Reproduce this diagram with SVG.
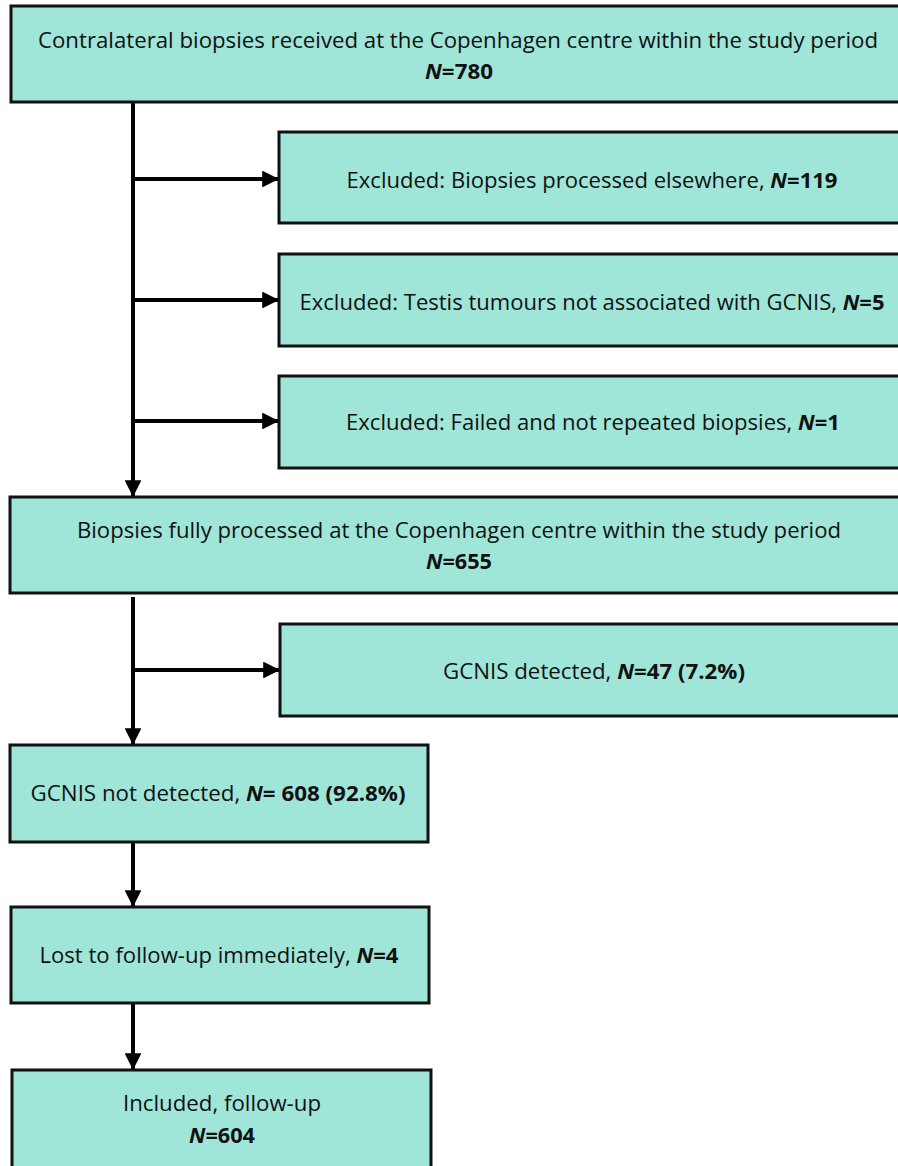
<svg xmlns="http://www.w3.org/2000/svg" width="898" height="1166" viewBox="0 0 898 1166">
<style>
.box{fill:#9fe6d8;stroke:#111;stroke-width:3}
.t{font-family:"Open Sans","Liberation Sans",Arial,sans-serif;font-size:22px;fill:#111;text-anchor:middle}
.b{font-weight:bold}
.bi{font-weight:bold;font-style:italic}
.ln{stroke:#000;stroke-width:4;fill:none}
</style>
<defs>
<marker id="ah" viewBox="0 0 10 10" refX="10" refY="5" markerWidth="4.5" markerHeight="4.2" markerUnits="strokeWidth" orient="auto">
<path d="M0,0 L10,5 L0,10 Z" fill="#000"/>
</marker>
</defs>
<rect width="898" height="1166" fill="#fff"/>
<g id="connectors">
<line class="ln" x1="133" y1="102" x2="133" y2="497" marker-end="url(#ah)"/>
<line class="ln" x1="133" y1="179" x2="279" y2="179" marker-end="url(#ah)"/>
<line class="ln" x1="133" y1="300" x2="279" y2="300" marker-end="url(#ah)"/>
<line class="ln" x1="133" y1="421" x2="279" y2="421" marker-end="url(#ah)"/>
<line class="ln" x1="133" y1="597" x2="133" y2="745" marker-end="url(#ah)"/>
<line class="ln" x1="133" y1="670" x2="280" y2="670" marker-end="url(#ah)"/>
<line class="ln" x1="133" y1="842" x2="133" y2="907" marker-end="url(#ah)"/>
<line class="ln" x1="133" y1="1003" x2="133" y2="1070" marker-end="url(#ah)"/>
</g>
<g id="n1">
<rect class="box" x="11" y="6" width="900" height="96"/>
<text class="t" x="458" y="48" textLength="840" lengthAdjust="spacingAndGlyphs">Contralateral biopsies received at the Copenhagen centre within the study period</text>
<text class="t b" x="459" y="79" textLength="68" lengthAdjust="spacingAndGlyphs"><tspan class="bi">N</tspan>=780</text>
</g>
<g id="n2">
<rect class="box" x="279" y="132" width="630" height="91"/>
<text class="t" x="592" y="188" textLength="491" lengthAdjust="spacingAndGlyphs">Excluded: Biopsies processed elsewhere, <tspan class="bi">N</tspan><tspan class="b">=119</tspan></text>
</g>
<g id="n3">
<rect class="box" x="279" y="254" width="630" height="92"/>
<text class="t" x="592" y="310" textLength="585" lengthAdjust="spacingAndGlyphs">Excluded: Testis tumours not associated with GCNIS, <tspan class="bi">N</tspan><tspan class="b">=5</tspan></text>
</g>
<g id="n4">
<rect class="box" x="279" y="376" width="630" height="92"/>
<text class="t" x="593" y="430" textLength="494" lengthAdjust="spacingAndGlyphs">Excluded: Failed and not repeated biopsies, <tspan class="bi">N</tspan><tspan class="b">=1</tspan></text>
</g>
<g id="n5">
<rect class="box" x="10" y="497" width="900" height="96"/>
<text class="t" x="459" y="538" textLength="764" lengthAdjust="spacingAndGlyphs">Biopsies fully processed at the Copenhagen centre within the study period</text>
<text class="t b" x="459" y="569" textLength="66" lengthAdjust="spacingAndGlyphs"><tspan class="bi">N</tspan>=655</text>
</g>
<g id="n6">
<rect class="box" x="280" y="624" width="630" height="92"/>
<text class="t" x="594" y="679" textLength="302" lengthAdjust="spacingAndGlyphs">GCNIS detected, <tspan class="bi">N</tspan><tspan class="b">=47 (7.2%)</tspan></text>
</g>
<g id="n7">
<rect class="box" x="10" y="745" width="418" height="97"/>
<text class="t" x="218" y="801" textLength="375" lengthAdjust="spacingAndGlyphs">GCNIS not detected, <tspan class="bi">N</tspan><tspan class="b">= 608 (92.8%)</tspan></text>
</g>
<g id="n8">
<rect class="box" x="11" y="907" width="418" height="96"/>
<text class="t" x="219" y="963" textLength="359" lengthAdjust="spacingAndGlyphs">Lost to follow-up immediately, <tspan class="bi">N</tspan><tspan class="b">=4</tspan></text>
</g>
<g id="n9">
<rect class="box" x="12" y="1070" width="419" height="110"/>
<text class="t" x="222" y="1111" textLength="198" lengthAdjust="spacingAndGlyphs">Included, follow-up</text>
<text class="t b" x="222" y="1143" textLength="66" lengthAdjust="spacingAndGlyphs"><tspan class="bi">N</tspan>=604</text>
</g>
</svg>
